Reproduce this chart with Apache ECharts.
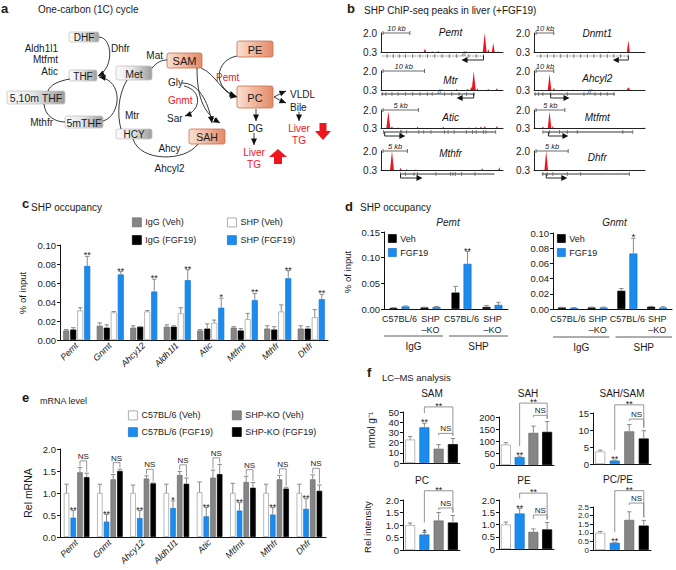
<!DOCTYPE html>
<html><head><meta charset="utf-8">
<script src="https://cdn.jsdelivr.net/npm/echarts@6.0.0/dist/echarts.min.js"></script>
<style>html,body{margin:0;padding:0;background:#fff}#c{width:676px;height:570px}</style>
</head><body><div id="c"></div><script>
// ================= DATA =================
// Panel b: SHP ChIP-seq tracks (positions in % of track, heights in signal units)
const chipGenes = ['Pemt','Mtr','Atic','Mthfr','Dnmt1','Ahcyl2','Mtfmt','Dhfr'];
const chipScaleText = ['10 kb','10 kb','5 kb','5 kb','10 kb','10 kb','5 kb','5 kb'];
const chipScaleLen = [22,34,29,20,16,16,26,29];
const peaksPemt = [[20,0.33,0.6],[36,0.62,1.0],[42,0.36,0.7],[47,0.40,0.7],[85,2.0,1.6],[88,0.55,0.8],[92,1.1,1.2],[96,0.35,0.6]];
const peaksMtr = [[62,0.40,0.8],[71,0.42,0.8],[74,0.60,1.0],[76,2.0,1.6],[79,0.45,0.7],[88,0.40,0.8],[95,0.45,0.8]];
const peaksAtic = [[6,1.85,1.6],[9,0.45,0.8],[14,0.35,0.6],[30,0.45,0.7],[51,0.45,0.7],[72,0.35,0.6],[78,0.40,0.6],[82,0.45,0.8],[85,0.50,0.8],[95,0.50,0.8]];
const peaksMthfr = [[9,2.0,1.6],[16,0.50,0.8],[21,0.40,0.6],[28,0.35,0.6],[83,0.45,0.7],[97,0.55,0.8]];
const peaksDnmt1 = [[67,0.35,0.7],[85,1.35,1.3]];
const peaksAhcyl2 = [[14,1.75,1.6],[18,0.50,0.8],[25,0.35,0.6],[35,0.35,0.6],[76,0.33,0.6],[85,0.55,1.6]];
const peaksMtfmt = [[1,0.35,0.6],[8,0.45,0.8],[14,1.85,1.6],[17,0.50,0.7],[99,0.35,0.6]];
const peaksDhfr = [[11,2.0,1.6],[66,0.33,0.6],[80,0.32,0.6]];
const chipPeaks = [peaksPemt,peaksMtr,peaksAtic,peaksMthfr,peaksDnmt1,peaksAhcyl2,peaksMtfmt,peaksDhfr];
const geneBody = [[1,84],[0,77],[2,94],[16,93],[2,85],[0,73],[8,89],[7,86]];
const geneTss = [84,76,3,16,85,15,13,11];
const geneArrowTo = [66,62,20,34,71,32,31,30];
const geneBreak = [68,48,null,null,null,50,null,null];
const geneExons = [
  [5,10,15,20,26,32,38,44,50,56,62,72,78,84],
  [1,4,9,14,20,26,32,38,42,52,58,64,70,76],
  [2,16,17,21,31,35,41,52,55,60,70,75,78,84,86,94],
  [16,20,27,30,45,57,59,61,66,77],
  [6,12,18,24,30,36,42,48,54,60,66,72,78,85],
  [1,4,8,15,30,45,55,60,66,72],
  [8,14,23,30,39,80,89],
  [8,12,17,30,42,86]
];

// Panel c: SHP occupancy (% of input)
const cGenes = ['Pemt','Gnmt','Ahcy12','Aldh1l1','Atic','Mtfmt','Mthfr','Dhfr'];
const cIgGVeh    = [0.010,0.015,0.013,0.014,0.010,0.013,0.012,0.012];
const cIgGVehErr = [0.011,0.018,0.015,0.016,0.011,0.014,0.015,0.015];
const cIgGFgf    = [0.011,0.013,0.014,0.014,0.012,0.010,0.011,0.012];
const cIgGFgfErr = [0.013,0.016,0.014,0.015,0.017,0.012,0.014,0.014];
const cShpVeh    = [0.031,0.029,0.030,0.028,0.018,0.022,0.030,0.024];
const cShpVehErr = [0.034,0.030,0.031,0.034,0.021,0.028,0.037,0.032];
const cShpFgf    = [0.078,0.069,0.051,0.063,0.034,0.042,0.065,0.043];
const cShpFgfErr = [0.088,0.072,0.064,0.074,0.044,0.049,0.073,0.048];
const cSig = ['**','**','**','**','*','**','**','**'];

// Panel d: SHP occupancy at Pemt / Gnmt
const dCats = ['C57BL/6','SHP\n–KO','C57BL/6','SHP\n–KO'];
const dGroups = ['IgG','SHP'];
const dPemtVeh = [0.002,0.003,0.032,0.004];
const dPemtVehErr = [0.0025,0.0035,0.044,0.007];
const dPemtFgf = [0.005,0.004,0.088,0.008];
const dPemtFgfErr = [0.006,0.005,0.112,0.013];
const dPemtSig = ['','','**',''];
const dGnmtVeh = [0.002,0.002,0.024,0.003];
const dGnmtVehErr = [0.0022,0.0025,0.027,0.0035];
const dGnmtFgf = [0.0015,0.002,0.073,0.002];
const dGnmtFgfErr = [0.0018,0.0025,0.093,0.003];
const dGnmtSig = ['','','*',''];

// Panel e: mRNA level
const eWtVeh = [1.0,1.0,1.0,1.0,1.02,1.0,1.0,1.0];
const eWtVehErr = [1.2,1.2,1.18,1.2,1.25,1.22,1.2,1.2];
const eWtFgf = [0.44,0.35,0.43,0.66,0.47,0.60,0.51,0.64];
const eWtFgfErr = [0.60,0.51,0.60,0.82,0.67,0.78,0.67,0.87];
const eKoVeh = [1.47,1.31,1.33,1.41,1.35,1.25,1.31,1.31];
const eKoVehErr = [1.58,1.42,1.39,1.49,1.52,1.38,1.40,1.41];
const eKoFgf = [1.36,1.50,1.22,1.21,1.43,1.12,1.10,1.05];
const eKoFgfErr = [1.45,1.54,1.23,1.34,1.65,1.24,1.13,1.18];
const eSig = ['**','**','**','*','**','**','**','**'];

// Panel f: LC-MS
const fGroups = ['C57BL/6 (Veh)','C57BL/6 (FGF19)','SHP-KO (Veh)','SHP-KO (FGF19)'];
const fSAM = [23,35,14,18.5], fSAMErr = [26,39,18,24];
const fSAH = [85,33,134,138], fSAHErr = [93,37,162,181];
const fSAHSAM = [3.7,1.0,9.6,7.5], fSAHSAMErr = [4.1,1.15,11.6,9.8];
const fPC = [1.0,0.62,1.18,1.10], fPCErr = [1.08,0.70,1.50,1.38];
const fPE = [1.0,1.45,0.70,0.80], fPEErr = [1.10,1.65,0.82,1.08];
const fPCPE = [1.0,0.42,1.75,1.42], fPCPEErr = [1.08,0.45,2.22,1.72];
const fTitles = ['SAM','SAH','SAH/SAM','PC','PE','PC/PE'];
const fSig = ['**','**','**','*','**','**'];
const fStarLevel = [55,258,17.4,2.37,2.28,3.45];
const fNSLevel = [29,207,13.2,1.68,1.39,2.73];

// ================= STYLE / LAYOUT =================
const FONT = 'Liberation Sans, Arial, Helvetica, sans-serif';
const BLUE = '#1a8cf0', BLUEB = '#1672c8', GRAY = '#858585', ERR = '#8a8a8a', RED = '#f0141e';
const grids = [], xAxes = [], yAxes = [], series = [], G = [];

function addGrid(g, xa, ya) {
  grids.push(Object.assign({outerBoundsMode:'none', containLabel:false}, g));
  const i = grids.length - 1;
  xAxes.push(Object.assign({gridIndex:i}, xa));
  yAxes.push(Object.assign({gridIndex:i}, ya));
  return i;
}
const AL = {show:true, onZero:false, lineStyle:{color:'#111', width:1}};
function yVal(max, interval, fmt, fs) {
  return {type:'value', min:0, max, interval, axisLine:AL,
    axisTick:{show:true, length:3, lineStyle:{color:'#111'}},
    axisLabel:{fontSize:fs||9.5, color:'#222', margin:4, fontFamily:FONT, formatter:fmt, lineHeight:fs||10},
    splitLine:{show:false}};
}
function catX(data, extra) {
  return Object.assign({type:'category', data, axisLine:AL, axisTick:{show:false},
    axisLabel:{fontSize:9, color:'#222', margin:4, interval:0, fontFamily:FONT}}, extra || {});
}
function T(text, x, y, o) {
  o = o || {};
  G.push({type:'text', x, y, rotation:o.rot||0, z:10, silent:true,
    style:{text, fontSize:o.fs||10, fontFamily:FONT, fontStyle:o.it?'italic':'normal',
      fontWeight:o.b?'bold':'normal', fill:o.c||'#1a1a1a', align:o.al||'left', verticalAlign:'middle'}});
}
function L(x1,y1,x2,y2,c,w) {
  G.push({type:'line', silent:true, shape:{x1,y1,x2,y2}, style:{stroke:c||'#222', lineWidth:w||1}});
}
function labelEl(text, x, y) {
  const star = text.indexOf('*') >= 0;
  return {type:'text', x, y: star ? y - 1 : y - 0.5,
    style:{text, fontSize: star ? 9 : 8, fontFamily:FONT, fill:'#222', align:'center',
      verticalAlign: star ? 'middle' : 'bottom'}};
}
function errSeries(gi, vals, errs, offset, sig) {
  return {type:'custom', xAxisIndex:gi, yAxisIndex:gi, z:5, silent:true, clip:false,
    data: vals.map((v,i)=>[i, v, errs[i]]), encode:{x:0, y:[1,2]},
    renderItem:(p, api)=>{
      const i = api.value(0);
      const b = api.coord([i, api.value(1)]), t = api.coord([i, api.value(2)]);
      const x = b[0] + offset;
      const ch = [
        {type:'line', shape:{x1:x, y1:b[1], x2:x, y2:t[1]}, style:{stroke:ERR, lineWidth:1}},
        {type:'line', shape:{x1:x-2.2, y1:t[1], x2:x+2.2, y2:t[1]}, style:{stroke:ERR, lineWidth:1}}
      ];
      const s = sig && sig[p.dataIndex];
      if (s) ch.push(labelEl(s, x, t[1]));
      return {type:'group', children:ch};
    }};
}
function bracketSeries(gi, items, offA, offB, labels, gapA, gapB) {
  return {type:'custom', xAxisIndex:gi, yAxisIndex:gi, z:6, silent:true, clip:false,
    data: items, encode:{x:[0,1], y:2},
    renderItem:(p, api)=>{
      const A = api.coord([api.value(0), api.value(2)]), B = api.coord([api.value(1), api.value(2)]);
      const TA = api.coord([api.value(0), api.value(3)]), TB = api.coord([api.value(1), api.value(4)]);
      const x1 = A[0] + offA, x2 = B[0] + offB, y = A[1];
      const ya = Math.max(y + 2, TA[1] - gapA), yb = Math.max(y + 2, TB[1] - gapB);
      return {type:'group', children:[
        {type:'polyline', shape:{points:[[x1,ya],[x1,y],[x2,y],[x2,yb]]}, style:{stroke:ERR, lineWidth:0.9, fill:null}},
        labelEl(labels[p.dataIndex], (x1+x2)/2, y)
      ]};
    }};
}
function addBars(gi, defs, w, g) {
  const offs = [];
  defs.forEach((d, i)=>{
    series.push({type:'bar', name:d[0], xAxisIndex:gi, yAxisIndex:gi, data:d[1], barWidth:w,
      barGap:(g/w*100)+'%', silent:true,
      itemStyle:{color:d[3], borderColor:d[4], borderWidth:0.7}});
    const off = (i - (defs.length-1)/2) * (w + g);
    offs.push(off);
    series.push(errSeries(gi, d[1], d[2], off, d[5]));
  });
  return offs;
}

// ================= PANEL A (diagram) =================
T('a', 1, 8, {b:true, fs:13});
T('One-carbon (1C) cycle', 38, 9, {fs:10});
const aBoxes = [
  ['DHF',69,32,30,10,'g',10], ['THF',69,70,28,11,'g',10], ['Met',116,66,36,14,'g',10.5],
  ['5,10m THF',7,91,58,13,'g',10.5], ['5mTHF',65,116,38,12,'g',10.5], ['HCY',116,129,36,10,'g',10],
  ['SAM',167,53,35,15,'s',11], ['PE',237,41,36,16,'s',11], ['PC',237,86,36,22,'s',11], ['SAH',189,129,36,15,'s',10.5]
];
aBoxes.forEach(b=>{
  const grad = b[5] === 'g'
    ? new echarts.graphic.LinearGradient(0,0,1,0,[{offset:0,color:'#fbfbfb'},{offset:0.45,color:'#e6e6e6'},{offset:1,color:'#9c9c9c'}])
    : new echarts.graphic.LinearGradient(0,0,1,0,[{offset:0,color:'#fae0d2'},{offset:0.5,color:'#f1b59b'},{offset:1,color:'#e28a68'}]);
  G.push({type:'rect', silent:true, shape:{x:b[1], y:b[2], width:b[3], height:b[4], r:2},
    style:{fill:grad, stroke: b[5]==='g' ? '#c4c4c4' : '#c8704f', lineWidth:0.8}});
  T(b[0], b[1]+b[3]/2, b[2]+b[4]/2+0.5, {fs:b[6], al:'center'});
});
const aLabels = [
  ['Aldh1l1',58,48,0,'right'], ['Mtfmt',58,59.5,0,'right'], ['Atic',58,71,0,'right'],
  ['Dhfr',111,48.5,0,'left'], ['Mat',163,55,0,'right'],
  ['Gly',168,82,0,'left'], ['Gnmt',168,100,1,'left'], ['Sar',167,118,0,'left'],
  ['Pemt',216,77,1,'left'], ['VLDL',290,94.5,0,'left'], ['Bile',290,107,0,'left'],
  ['DG',255.5,128.5,0,'center'], ['Liver',254,152,1,'center'], ['TG',254,164,1,'center'],
  ['Liver',299,128,1,'center'], ['TG',299,140,1,'center'],
  ['Mthfr',53,122,0,'right'], ['Mtr',125,115,0,'left'], ['Ahcy',169.5,148,0,'center'], ['Ahcyl2',169.5,168.5,0,'center']
];
aLabels.forEach(l=>T(l[0], l[1], l[2], {fs:10, c: l[3] ? RED : '#1a1a1a', al:l[4]}));
function head(from, tip, len, wid) {
  len = len || 6.5; wid = wid || 3;
  const dx = tip[0]-from[0], dy = tip[1]-from[1], d = Math.hypot(dx,dy) || 1, ux = dx/d, uy = dy/d;
  const bx = tip[0]-ux*len, by = tip[1]-uy*len;
  G.push({type:'polygon', silent:true, shape:{points:[[tip[0],tip[1]],[bx-uy*wid,by+ux*wid],[bx+uy*wid,by-ux*wid]]}, style:{fill:'#111'}});
}
function curve(p0, c1, c2, p1, hd) {
  G.push({type:'bezierCurve', silent:true, shape:{x1:p0[0],y1:p0[1],cpx1:c1[0],cpy1:c1[1],cpx2:c2[0],cpy2:c2[1],x2:p1[0],y2:p1[1]},
    style:{stroke:'#222', lineWidth:0.9, fill:null}});
  if (hd) head(c2, p1);
}
curve([99,37],[113,38],[114,68],[98,76],true);        // Dhfr
curve([70,79],[58,81],[50,85],[48,91],false);         // THF -> 5,10m THF
curve([44,104],[45,116],[55,122],[65,122],false);     // 5,10m THF -> 5mTHF
curve([103,121],[121,116],[124,80],[99,77],true);     // 5mTHF -> THF (Mtr)
curve([127,80],[118,95],[117,115],[121,129],false);   // Met <-> HCY
curve([152,68],[157,62],[162,60],[167,60],false);     // Met -> SAM (Mat)
curve([197,68],[197,100],[205,114],[220,123],true);   // SAM -> SAH
curve([182,83],[198,83],[208,100],[212,123],true);    // Gly -> SAH
curve([184,86],[202,90],[202,110],[185,116],true);    // Gly -> Sar (Gnmt)
curve([201,68],[216,74],[222,94],[237,97],true);      // SAM -> PC (Pemt)
curve([237,56],[215,60],[212,88],[236,96],true);      // PE -> PC
curve([198,144],[185,162],[140,162],[133,139],false); // SAH -> HCY (Ahcy)
curve([274,97],[278,95],[281,93],[286,91],true);      // PC -> VLDL
curve([274,97],[278,99],[281,101],[286,103],true);    // PC -> Bile
curve([299,112],[299,115],[299,117],[299,121],true);  // Bile -> TG
curve([256,109],[256,112],[256,115],[256,121],true);  // PC -> DG
curve([254,133],[254,137],[254,140],[254,145],true);  // DG -> TG
G.push({type:'polygon', silent:true, shape:{points:[[278,149],[287,157],[282,157],[282,164],[274,164],[274,157],[269,157]]}, style:{fill:RED}});
G.push({type:'polygon', silent:true, shape:{points:[[319.5,123],[326.5,123],[326.5,131],[331,131],[323,140],[315,131],[319.5,131]]}, style:{fill:RED}});

// ================= PANEL B (ChIP-seq tracks) =================
T('b', 347, 8, {b:true, fs:13});
T('SHP ChIP-seq peaks in liver (+FGF19)', 364, 10, {fs:10});
const trackLeft = [381,381,381,381,534,534,534,534];
const trackWidth = [122,122,122,122,111,111,111,111];
const trackTop = [33,71,110,151,33,71,110,151];
const trackH = [19,19,18,19,19,19,18,19];
const nameDy = [-1,9,7,2,0,7,7,6];
chipGenes.forEach((gname, k)=>{
  const gi = addGrid({left:trackLeft[k], top:trackTop[k], width:trackWidth[k], height:trackH[k]},
    {type:'value', min:0, max:100, axisLine:{show:true, onZero:false, lineStyle:{color:'#222', width:1}},
      axisTick:{show:false}, axisLabel:{show:false}, splitLine:{show:false}},
    {type:'value', min:0.3, max:2.0, interval:1.7, axisLine:{show:true, lineStyle:{color:'#222', width:1}},
      axisTick:{show:false}, axisLabel:{fontSize:10, color:'#222', margin:4, fontFamily:FONT, formatter:v=>v.toFixed(1)},
      splitLine:{show:false}});
  series.push({type:'custom', xAxisIndex:gi, yAxisIndex:gi, silent:true, z:3,
    data: chipPeaks[k], encode:{x:0, y:1},
    renderItem:(p, api)=>{
      const c = api.value(0), h = api.value(1), w = api.value(2);
      const a = api.coord([c-w, 0.3]), t = api.coord([c, h]), b = api.coord([c+w, 0.3]);
      return {type:'polygon', shape:{points:[a,t,b]}, style:{fill:RED}};
    }});
  series.push({type:'custom', xAxisIndex:gi, yAxisIndex:gi, silent:true, z:4, clip:false,
    data:[[50,1]], encode:{x:0, y:1},
    renderItem:(p, api)=>{
      const cs = p.coordSys, X = v => cs.x + v/100*cs.width, base = cs.y + cs.height;
      const ln = (x1,y1,x2,y2,c,w,dash)=>({type:'line', shape:{x1,y1,x2,y2}, style:{stroke:c||'#333', lineWidth:w||0.8, lineDash:dash||null}});
      const ch = [];
      const sx0 = cs.x + 2, sx1 = sx0 + chipScaleLen[k]/100*cs.width, sy = cs.y;
      ch.push(ln(sx0,sy,sx1,sy,'#444',0.8), ln(sx0,sy-2,sx0,sy+2,'#444',0.8), ln(sx1,sy-2,sx1,sy+2,'#444',0.8));
      ch.push({type:'text', x:(sx0+sx1)/2, y:sy-0.5, style:{text:chipScaleText[k], fontSize:7.5, fontStyle:'italic', fontFamily:FONT, fill:'#222', align:'center', verticalAlign:'bottom'}});
      ch.push({type:'text', x:X(57), y:cs.y + nameDy[k], style:{text:gname, fontSize:10, fontStyle:'italic', fontFamily:FONT, fill:'#111', align:'center', verticalAlign:'middle'}});
      const gy = base + 4, dotted = (k === 0 || k === 4);
      ch.push(ln(X(geneBody[k][0]), gy, X(geneBody[k][1]), gy, dotted ? '#888' : '#9a9a9a', dotted ? 1.2 : 2, dotted ? [1.5,1] : null));
      geneExons[k].forEach(e=>ch.push(ln(X(e), gy-2, X(e), gy+2, '#555', 0.7)));
      const ay = base + 8, tx = X(geneTss[k]), ax = X(geneArrowTo[k]), dir = ax > tx ? 1 : -1;
      ch.push(ln(tx, gy, tx, ay, '#111', 0.9), ln(tx, ay, ax - dir*3, ay, '#111', 0.9));
      ch.push({type:'polygon', shape:{points:[[ax, ay],[ax - dir*6, ay-3],[ax - dir*6, ay+3]]}, style:{fill:'#111'}});
      if (geneBreak[k] !== null) ch.push({type:'text', x:X(geneBreak[k]), y:base+1, style:{text:'//', fontSize:7.5, fontStyle:'italic', fontFamily:FONT, fill:'#333', align:'center', verticalAlign:'middle'}});
      return {type:'group', children:ch};
    }});
});

// ================= PANEL C =================
T('c', 22, 203, {b:true, fs:13});
T('SHP occupancy', 31, 207, {fs:10});
T('% of input', 22, 293, {fs:9.5, al:'center', rot:Math.PI/2});
const rotLab = {axisLabel:{fontSize:9, color:'#222', margin:4, interval:0, rotate:45, fontStyle:'italic', fontFamily:FONT}};
const gc = addGrid({left:60, top:245, width:268, height:95}, catX(cGenes, rotLab), yVal(0.10, 0.02, v=>v.toFixed(2)));
addBars(gc, [
  ['IgG (Veh)', cIgGVeh, cIgGVehErr, GRAY, '#6a6a6a', null],
  ['IgG (FGF19)', cIgGFgf, cIgGFgfErr, '#000', '#000', null],
  ['SHP (Veh)', cShpVeh, cShpVehErr, '#fff', '#9a9a9a', null],
  ['SHP (FGF19)', cShpFgf, cShpFgfErr, BLUE, BLUEB, cSig]
], 6, 1);

// ================= PANEL D =================
T('d', 345, 206, {b:true, fs:13});
T('SHP occupancy', 360, 207, {fs:10});
T('% of input', 347, 272, {fs:9.5, al:'center', rot:Math.PI/2});
const dX = {type:'category', data:[0,1,2,3], axisLine:AL, axisTick:{show:false},
  axisLabel:{fontSize:9, color:'#222', margin:4, interval:0, lineHeight:11, fontFamily:FONT, formatter:(v,i)=>dCats[i]}};
const dPanels = [
  {title:'Pemt', left:384, top:232, width:124, height:77, max:0.15, int:0.05, veh:dPemtVeh, vehE:dPemtVehErr, fgf:dPemtFgf, fgfE:dPemtFgfErr, sig:dPemtSig, by:336},
  {title:'Gnmt', left:553, top:233, width:119, height:76, max:0.10, int:0.02, veh:dGnmtVeh, vehE:dGnmtVehErr, fgf:dGnmtFgf, fgfE:dGnmtFgfErr, sig:dGnmtSig, by:337}
];
dPanels.forEach(d=>{
  const gi = addGrid({left:d.left, top:d.top, width:d.width, height:d.height}, Object.assign({}, dX), yVal(d.max, d.int, v=>v.toFixed(2)));
  addBars(gi, [['Veh', d.veh, d.vehE, '#000', '#000', null], ['FGF19', d.fgf, d.fgfE, BLUE, BLUEB, d.sig]], 8, 4);
  T(d.title, d.left + d.width/2 + 2, 222, {fs:10, it:true, al:'center'});
  const mid = d.left + d.width/2;
  L(d.left, d.by, mid-3, d.by, '#333', 0.8); L(mid+3, d.by, d.left+d.width, d.by, '#333', 0.8);
  T(dGroups[0], (d.left + mid - 3)/2, d.by + 10, {fs:10, al:'center'});
  T(dGroups[1], (mid + 3 + d.left + d.width)/2, d.by + 10, {fs:10, al:'center'});
});

// ================= PANEL E =================
T('e', 22, 397, {b:true, fs:13});
T('mRNA level', 40, 401, {fs:9});
T('Rel mRNA', 28, 493, {fs:10.5, al:'center', rot:Math.PI/2});
const ge = addGrid({left:60, top:449, width:266, height:88}, catX(cGenes, rotLab), yVal(2.0, 0.5, v=>v.toFixed(1)));
const eOffs = addBars(ge, [
  ['C57BL/6 (Veh)', eWtVeh, eWtVehErr, '#fff', '#9a9a9a', null],
  ['C57BL/6 (FGF19)', eWtFgf, eWtFgfErr, BLUE, BLUEB, eSig],
  ['SHP-KO (Veh)', eKoVeh, eKoVehErr, GRAY, '#6a6a6a', null],
  ['SHP-KO (FGF19)', eKoFgf, eKoFgfErr, '#000', '#000', null]
], 5.5, 1.2);
series.push(bracketSeries(ge, eKoVeh.map((_, i)=>[i, i, Math.max(eKoVehErr[i], eKoFgfErr[i]) + 0.15, eKoVehErr[i], eKoFgfErr[i]]),
  eOffs[2], eOffs[3], eKoVeh.map(()=> 'NS'), 1.5, 1.5));

// ================= PANEL F =================
T('f', 367, 372, {b:true, fs:13});
T('LC–MS analysis', 382, 377, {fs:9.5});
T('nmol g⁻¹', 371, 430, {fs:10, al:'center', rot:Math.PI/2});
T('Rel intensity', 367, 527, {fs:9.5, al:'center', rot:Math.PI/2});
const fVals = [fSAM, fSAH, fSAHSAM, fPC, fPE, fPCPE];
const fErrs = [fSAMErr, fSAHErr, fSAHSAMErr, fPCErr, fPEErr, fPCPEErr];
const fMax = [50, 200, 15, 2.0, 2.0, 2.5];
const fInt = [10, 50, 5, 0.5, 0.5, 0.5];
const fLabelSize = [9.5, 9.5, 9.5, 9.5, 9.5, 8];
const fRect = [[403,412,57,51],[499,417,55,48],[593,413,58,51],[403,500,57,50],[499,500,55,49],[593,507,58,43]];
const fTitleXY = [[432,393],[528,393],[622,393],[422,480],[524,480],[618,479]];
const fColors = ['#fff', BLUE, GRAY, '#000'];
const fBorders = ['#9a9a9a', BLUEB, '#6a6a6a', '#000'];
fVals.forEach((vals, k)=>{
  const fmt = k < 3 ? (v=>String(v)) : (v=> v === 0 ? '0' : v.toFixed(1));
  const gi = addGrid({left:fRect[k][0], top:fRect[k][1], width:fRect[k][2], height:fRect[k][3]},
    catX(fGroups, {axisLabel:{show:false}}), yVal(fMax[k], fInt[k], fmt, fLabelSize[k]));
  series.push({type:'bar', name:'f'+k, xAxisIndex:gi, yAxisIndex:gi, barWidth:10, silent:true,
    data: vals.map((v, i)=>({value:v, itemStyle:{color:fColors[i], borderColor:fBorders[i], borderWidth:0.7}}))});
  series.push(errSeries(gi, vals, fErrs[k], 0, ['', fSig[k], '', '']));
  series.push(bracketSeries(gi, [[1, 3, fStarLevel[k], fErrs[k][1], fErrs[k][3]], [2, 3, fNSLevel[k], fErrs[k][2], fErrs[k][3]]],
    0, 0, ['**', 'NS'], 10, 3));
  T(fTitles[k], fTitleXY[k][0], fTitleXY[k][1], {fs:10, al:'center'});
});

// ================= LEGENDS =================
function lg(left, top, names, styles, ih, gap) {
  return {left, top, orient:'vertical', itemWidth:ih, itemHeight:ih, itemGap:gap, padding:0, icon:'rect',
    selectedMode:false, textStyle:{fontSize:9, color:'#222', fontFamily:FONT, lineHeight:ih, padding:[0,0,0,-1]},
    data: names.map((n, i)=>({name:n, itemStyle:styles[i]}))};
}
const sG = {color:GRAY, borderColor:'#6a6a6a', borderWidth:0.7}, sK = {color:'#000', borderColor:'#000', borderWidth:0.7},
      sW = {color:'#fff', borderColor:'#9a9a9a', borderWidth:0.8}, sB = {color:BLUE, borderColor:BLUEB, borderWidth:0.7};
const legends = [
  lg(132, 217.5, ['IgG (Veh)','IgG (FGF19)'], [sG, sK], 9, 8),
  lg(227, 217.5, ['SHP (Veh)','SHP (FGF19)'], [sW, sB], 9, 8),
  lg(388, 234, ['Veh','FGF19'], [sK, sB], 8, 5),
  lg(557, 234, ['Veh','FGF19'], [sK, sB], 8, 5),
  lg(128, 410.5, ['C57BL/6 (Veh)','C57BL/6 (FGF19)'], [sW, sB], 9, 7),
  lg(232, 410.5, ['SHP-KO (Veh)','SHP-KO (FGF19)'], [sG, sK], 9, 7)
];

const chart = echarts.init(document.getElementById('c'), null, {renderer:'svg', width:676, height:570});
chart.setOption({
  animation:false, backgroundColor:'#fff',
  textStyle:{fontFamily:FONT},
  grid:grids, xAxis:xAxes, yAxis:yAxes, series, legend:legends,
  graphic:{elements:G}
});
</script></body></html>
